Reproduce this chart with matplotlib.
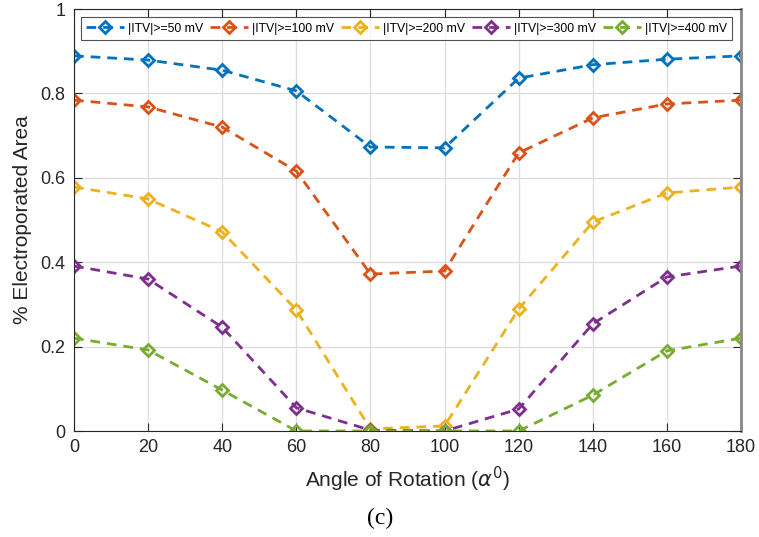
import matplotlib
matplotlib.use("Agg")
import matplotlib.pyplot as plt

angles = [0, 20, 40, 60, 80, 100, 120, 140, 160, 180]
itv50 = [0.889, 0.879, 0.855, 0.806, 0.673, 0.671, 0.836, 0.868, 0.881, 0.889]
itv100 = [0.784, 0.768, 0.720, 0.616, 0.372, 0.379, 0.659, 0.742, 0.775, 0.784]
itv200 = [0.578, 0.550, 0.472, 0.287, 0.005, 0.012, 0.289, 0.495, 0.564, 0.578]
itv300 = [0.391, 0.360, 0.246, 0.055, 0.002, 0.000, 0.052, 0.254, 0.365, 0.391]
itv400 = [0.220, 0.192, 0.097, 0.000, 0.000, 0.000, 0.000, 0.085, 0.190, 0.220]
labels = ['|ITV|>=50 mV', '|ITV|>=100 mV', '|ITV|>=200 mV', '|ITV|>=300 mV', '|ITV|>=400 mV']
colors = ['#0072BD', '#D95319', '#EDB120', '#7E2F8E', '#77AC30']

plt.rcParams['font.family'] = ['Liberation Sans', 'DejaVu Sans']
fig = plt.figure(figsize=(7.59, 5.37), dpi=100)
ax = fig.add_axes([74/759, 1 - 431/537, (741-74)/759, (431-9)/537])

for s, lab, c in zip([itv50, itv100, itv200, itv300, itv400], labels, colors):
    ax.plot(angles, s, linestyle=(0, (3.5, 2.5)), color=c, lw=2.0, marker='D',
            markersize=6.5, markerfacecolor='none', markeredgewidth=2.0, label=lab)

ax.set_xlim(0, 180)
ax.set_ylim(0, 1)
ax.set_xticks(range(0, 181, 20))
ax.set_yticks([0, 0.2, 0.4, 0.6, 0.8, 1])
ax.set_yticklabels(['0', '0.2', '0.4', '0.6', '0.8', '1'])
ax.grid(True, color='#dcdcdc', lw=0.9)
ax.set_axisbelow(True)
ax.tick_params(direction='in', labelsize=13, colors='#262626', length=6, pad=6,
               top=True, right=True)
for sp in ax.spines.values():
    sp.set_color('#262626')
ax.spines['right'].set_color('#888888')
ax.spines['right'].set_linewidth(2)

ax.set_xlabel('Angle of Rotation ($\\alpha^0$)', fontsize=15, color='#262626', labelpad=6)
ax.set_ylabel('% Electroporated Area', fontsize=15, color='#262626', labelpad=6)

leg = ax.legend(loc='upper center', ncol=5, fontsize=8.8, frameon=True, fancybox=False,
                edgecolor='#262626', borderpad=0.45, handlelength=3.1, handletextpad=0.33,
                columnspacing=0.57, bbox_to_anchor=(0.4985, 0.981), borderaxespad=0.0)
leg.get_frame().set_linewidth(0.8)

fig.text(380/759, 1 - 518/537, '(c)', ha='center', va='center', fontsize=17,
         family=['Liberation Serif', 'DejaVu Serif'])

fig.savefig('out.png', dpi=100)
